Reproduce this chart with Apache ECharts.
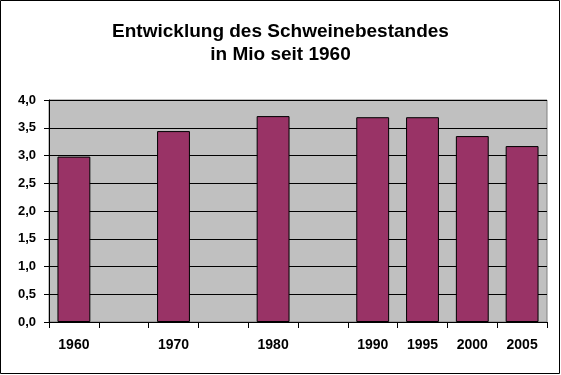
<!DOCTYPE html>
<html>
<head>
<meta charset="utf-8">
<script src="https://cdn.jsdelivr.net/npm/echarts@6/dist/echarts.min.js"></script>
<style>
  html, body { margin: 0; padding: 0; background: #fff; }
  #chart { width: 561px; height: 375px; }
</style>
</head>
<body>
<div id="chart"></div>
<script>
// categories (empty slots keep the Excel spacing between decades)
const years = ["1960", "", "1970", "", "1980", "", "1990", "1995", "2000", "2005"];
const bestand = [2.98, null, 3.44, null, 3.71, null, 3.69, 3.69, 3.35, 3.17];
const titleText = "Entwicklung des Schweinebestandes\nin Mio seit 1960";

const chart = echarts.init(document.getElementById("chart"));

chart.setOption({
  backgroundColor: "#fff",
  animation: false,
  textStyle: { fontFamily: "Liberation Sans, Arial, sans-serif" },
  title: {
    text: titleText,
    left: "center",
    top: 15,
    textStyle: {
      fontSize: 19,
      fontWeight: "bold",
      color: "#000",
      lineHeight: 23,
    },
  },
  graphic: [
    {
      type: "rect",
      shape: { x: 0.5, y: 0.5, width: 559, height: 373 },
      style: { fill: "none", stroke: "#000", lineWidth: 1 },
      silent: true,
    },
  ],
  grid: {
    left: 49,
    right: 14,
    top: 100,
    bottom: 53,
    show: true,
    backgroundColor: "#c0c0c0",
    borderColor: "#808080",
    borderWidth: 1,
  },
  xAxis: {
    type: "category",
    data: years,
    axisLine: { lineStyle: { color: "#000", width: 1 } },
    axisTick: {
      show: true,
      interval: 0,
      alignWithLabel: false,
      length: 6,
      lineStyle: { color: "#000" },
    },
    axisLabel: {
      interval: 0,
      margin: 16,
      color: "#000",
      fontSize: 14,
      fontWeight: "bold",
    },
  },
  yAxis: {
    type: "value",
    min: 0,
    max: 4,
    interval: 0.5,
    axisLine: { show: true, lineStyle: { color: "#000", width: 1 } },
    axisTick: { show: true, length: 5, lineStyle: { color: "#000" } },
    splitLine: { lineStyle: { color: "#000", width: 1 } },
    axisLabel: {
      margin: 13,
      color: "#000",
      fontSize: 13,
      fontWeight: "bold",
      formatter: (v) => v.toFixed(1).replace(".", ","),
    },
  },
  series: [
    {
      type: "bar",
      data: bestand,
      barWidth: "66%",
      itemStyle: {
        color: "#993366",
        borderColor: "#000",
        borderWidth: 1,
      },
    },
  ],
});
</script>
</body>
</html>
